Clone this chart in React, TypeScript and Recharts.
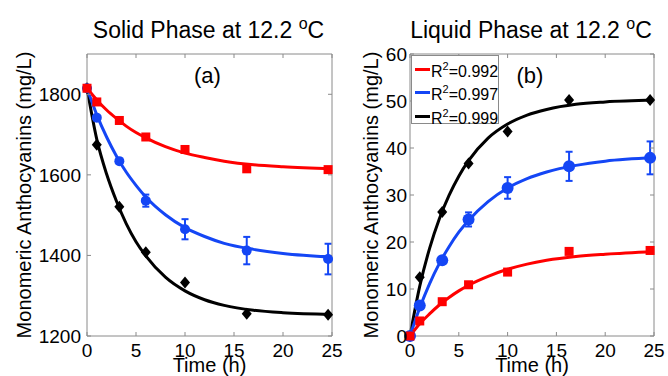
import React from 'react';
import { ComposedChart, Line, Scatter, XAxis, YAxis, ErrorBar, Label, Legend } from 'recharts';

const FONT = '"Liberation Sans", Arial, Helvetica, sans-serif';
const AXIS_GREY = '#8a8a8a';
const RED = '#ff0000';
const BLUE = '#1446f5';
const BLACK = '#000000';

// measurement times (h) and times at which the fitted curves were read
const sampleTimes = [0, 1, 3.3, 6, 10, 16.3, 24.6];
const fitTimes = [0, 1, 2, 3, 4, 5, 6, 8, 10, 12, 14, 17, 20, 25];
const timeTicks = [0, 5, 10, 15, 20, 25];

// (a) Solid phase
const solidTicks = [1200, 1400, 1600, 1800];
const solidRed = [1815, 1781, 1735, 1694, 1663, 1615, 1613];
const solidBlue = [1815, 1742, 1634, 1536, 1465, 1412, 1391];
const solidBlueErr = [0, 3, 6, 15, 25, 34, 38];
const solidBlack = [1815, 1675, 1521, 1408, 1333, 1255, 1253];
const solidRedFit = [1815, 1786, 1761, 1740, 1721, 1705, 1692, 1670, 1654, 1643, 1634, 1625, 1620, 1615];
const solidBlueFit = [1815, 1749, 1694, 1647, 1607, 1574, 1545, 1501, 1469, 1447, 1430, 1415, 1405, 1396];
const solidBlackFit = [1815, 1688, 1602, 1535, 1479, 1434, 1399, 1346, 1312, 1290, 1276, 1264, 1258, 1254];

// (b) Liquid phase
const liquidTicks = [0, 10, 20, 30, 40, 50, 60];
const liquidRed = [0, 3.2, 7.3, 10.9, 13.6, 18.0, 18.2];
const liquidBlue = [0, 6.5, 16.1, 24.8, 31.5, 36.1, 37.9];
const liquidBlueErr = [0, 0.3, 0.7, 1.5, 2.3, 3.1, 3.5];
const liquidBlack = [0, 12.5, 26.4, 36.7, 43.5, 50.2, 50.2];
const liquidRedFit = [0, 2.6, 4.7, 6.6, 8.2, 9.6, 10.8, 12.7, 14.2, 15.3, 16.1, 16.9, 17.4, 18.0];
const liquidBlueFit = [0, 6.0, 11.1, 15.4, 19.0, 22.1, 24.6, 28.6, 31.5, 33.5, 34.9, 36.3, 37.2, 37.9];
const liquidBlackFit = [0, 10.6, 18.6, 24.9, 29.9, 34.0, 37.3, 42.1, 45.1, 47.0, 48.2, 49.3, 49.8, 50.2];

const rSquared = ['0.992', '0.997', '0.999'];
const legendColors = [RED, BLUE, BLACK];

const toPoints = (vals: number[], errs?: number[]) =>
  sampleTimes.map((t, i) => ({ t, v: vals[i], err: errs ? errs[i] : 0 }));
const toCurve = (vals: number[]) => fitTimes.map((t, i) => ({ t, v: vals[i] }));

const squareShape = (color: string) => (p: any) => (
  <rect x={p.cx - 4.5} y={p.cy - 4.5} width={9} height={9} fill={color} />
);
const circleShape = (color: string, r: number) => (p: any) => (
  <circle cx={p.cx} cy={p.cy} r={r} fill={color} />
);
const diamondShape = (color: string) => (p: any) => (
  <path d={`M${p.cx},${p.cy - 6}L${p.cx + 5},${p.cy}L${p.cx},${p.cy + 6}L${p.cx - 5},${p.cy}Z`} fill={color} />
);

const makeTitle = (title: string, letter: string) => (props: any) => {
  const { x, y, width, height } = props.viewBox;
  const cx = x + width / 2;
  const top = y + (height || 0);
  return (
    <g>
      <text x={cx - 1} y={top - 16} textAnchor="middle" fontSize={23} fontFamily={FONT} fill="#000">
        {title}
        <tspan dy={-9} fontSize={16}>o</tspan>
        <tspan dy={9}>C</tspan>
      </text>
      <text x={cx - 2} y={top + 29} textAnchor="middle" fontSize={22} fontFamily={FONT} fill="#000">
        {letter}
      </text>
    </g>
  );
};

const timeLabel = (props: any) => {
  const { x, y, width } = props.viewBox;
  return (
    <text x={x + width / 2} y={y + 35.5} textAnchor="middle" fontSize={20} fontFamily={FONT} fill="#000">
      Time (h)
    </text>
  );
};

const makeYLabel = (baseline: number) => (props: any) => {
  const { x, y, height } = props.viewBox;
  const bx = x + baseline;
  const cy = y + height / 2;
  return (
    <text x={bx} y={cy} transform={`rotate(-90 ${bx} ${cy})`} textAnchor="middle" fontSize={20} fontFamily={FONT} fill="#000">
      Monomeric Anthocyanins (mg/L)
    </text>
  );
};

const renderLegend = () => (
  <div
    style={{
      position: 'relative',
      width: 88,
      height: 69,
      boxSizing: 'border-box',
      border: `1px solid ${AXIS_GREY}`,
      background: '#fff',
      fontFamily: FONT,
      fontSize: 16,
      lineHeight: '16px',
      color: '#000',
    }}
  >
    {rSquared.map((r, i) => (
      <React.Fragment key={r}>
        <span
          style={{
            position: 'absolute',
            left: 3,
            top: 11.5 + 23.5 * i,
            width: 15,
            height: 3,
            background: legendColors[i],
          }}
        />
        <span style={{ position: 'absolute', left: 19, top: 7.5 + 23.5 * i, whiteSpace: 'nowrap' }}>
          R<span style={{ fontSize: 11, position: 'relative', top: -7 }}>2</span>={r}
        </span>
      </React.Fragment>
    ))}
  </div>
);

type PanelProps = {
  left: number;
  width: number;
  yAxisWidth: number;
  marginRight: number;
  yDomain: [number, number];
  yTicks: number[];
  yTickMargin: number;
  yLabelBaseline: number;
  title: string;
  letter: string;
  red: number[];
  blue: number[];
  blueErr: number[];
  black: number[];
  redFit: number[];
  blueFit: number[];
  blackFit: number[];
  blueRadius: number;
  showLegend?: boolean;
};

function Panel(p: PanelProps) {
  const tickStyle = { fill: '#000', fontSize: 19, fontFamily: FONT };
  return (
    <div style={{ position: 'absolute', left: p.left, top: 0 }}>
      <ComposedChart width={p.width} height={376} margin={{ top: 53, right: p.marginRight, bottom: 0, left: 0 }}>
        <XAxis
          xAxisId="b"
          type="number"
          dataKey="t"
          domain={[0, 25]}
          ticks={timeTicks}
          interval={0}
          height={40}
          tickSize={-4}
          tickMargin={12}
          stroke={AXIS_GREY}
          tick={tickStyle}
        >
          <Label content={timeLabel} />
        </XAxis>
        <XAxis
          xAxisId="t"
          orientation="top"
          type="number"
          dataKey="t"
          domain={[0, 25]}
          ticks={timeTicks}
          interval={0}
          height={1}
          tickSize={-4}
          stroke={AXIS_GREY}
          tickFormatter={() => ''}
        >
          <Label content={makeTitle(p.title, p.letter)} />
        </XAxis>
        <YAxis
          yAxisId="l"
          type="number"
          domain={p.yDomain}
          ticks={p.yTicks}
          interval={0}
          width={p.yAxisWidth}
          tickSize={-4}
          tickMargin={p.yTickMargin}
          stroke={AXIS_GREY}
          tick={tickStyle}
        >
          <Label content={makeYLabel(p.yLabelBaseline)} />
        </YAxis>
        <YAxis
          yAxisId="r"
          orientation="right"
          type="number"
          domain={p.yDomain}
          ticks={p.yTicks}
          interval={0}
          width={1}
          tickSize={-4}
          stroke={AXIS_GREY}
          tickFormatter={() => ''}
        />

        <Line xAxisId="t" yAxisId="r" data={toCurve(p.blackFit)} dataKey="v" type="monotone" stroke="none" dot={false} isAnimationActive={false} legendType="none" />
        <Line xAxisId="b" yAxisId="l" data={toCurve(p.blackFit)} dataKey="v" type="monotone" stroke={BLACK} strokeWidth={3} dot={false} isAnimationActive={false} name="black" />
        <Scatter xAxisId="b" yAxisId="l" data={toPoints(p.black)} dataKey="v" shape={diamondShape(BLACK)} isAnimationActive={false} legendType="none" />
        <Line xAxisId="b" yAxisId="l" data={toCurve(p.blueFit)} dataKey="v" type="monotone" stroke={BLUE} strokeWidth={3} dot={false} isAnimationActive={false} name="blue" />
        <Scatter xAxisId="b" yAxisId="l" data={toPoints(p.blue, p.blueErr)} dataKey="v" shape={circleShape(BLUE, p.blueRadius)} isAnimationActive={false} legendType="none">
          <ErrorBar dataKey="err" direction="y" width={3.5} strokeWidth={2} stroke={BLUE} />
        </Scatter>
        <Line xAxisId="b" yAxisId="l" data={toCurve(p.redFit)} dataKey="v" type="monotone" stroke={RED} strokeWidth={3} dot={false} isAnimationActive={false} name="red" />
        <Scatter xAxisId="b" yAxisId="l" data={toPoints(p.red)} dataKey="v" shape={squareShape(RED)} isAnimationActive={false} legendType="none" />

        {p.showLegend ? (
          <Legend
            layout="vertical"
            align="center"
            verticalAlign="middle"
            wrapperStyle={{ left: 71, top: 55, width: 88, height: 69 }}
            content={renderLegend}
          />
        ) : null}
      </ComposedChart>
    </div>
  );
}

export default function App() {
  return (
    <div style={{ position: 'absolute', left: 0, top: 0, width: 668, height: 376, background: '#fff', overflow: 'hidden' }}>
      <Panel
        left={0}
        width={360}
        yAxisWidth={87}
        marginRight={27}
        yDomain={[1200, 1900]}
        yTicks={solidTicks}
        yTickMargin={10}
        yLabelBaseline={31}
        title="Solid Phase at 12.2 "
        letter="(a)"
        red={solidRed}
        blue={solidBlue}
        blueErr={solidBlueErr}
        black={solidBlack}
        redFit={solidRedFit}
        blueFit={solidBlueFit}
        blackFit={solidBlackFit}
        blueRadius={5}
      />
      <Panel
        left={340}
        width={328}
        yAxisWidth={70}
        marginRight={13}
        yDomain={[0, 60]}
        yTicks={liquidTicks}
        yTickMargin={7}
        yLabelBaseline={38}
        title="Liquid Phase at 12.2 "
        letter="(b)"
        red={liquidRed}
        blue={liquidBlue}
        blueErr={liquidBlueErr}
        black={liquidBlack}
        redFit={liquidRedFit}
        blueFit={liquidBlueFit}
        blackFit={liquidBlackFit}
        blueRadius={6}
        showLegend
      />
    </div>
  );
}
